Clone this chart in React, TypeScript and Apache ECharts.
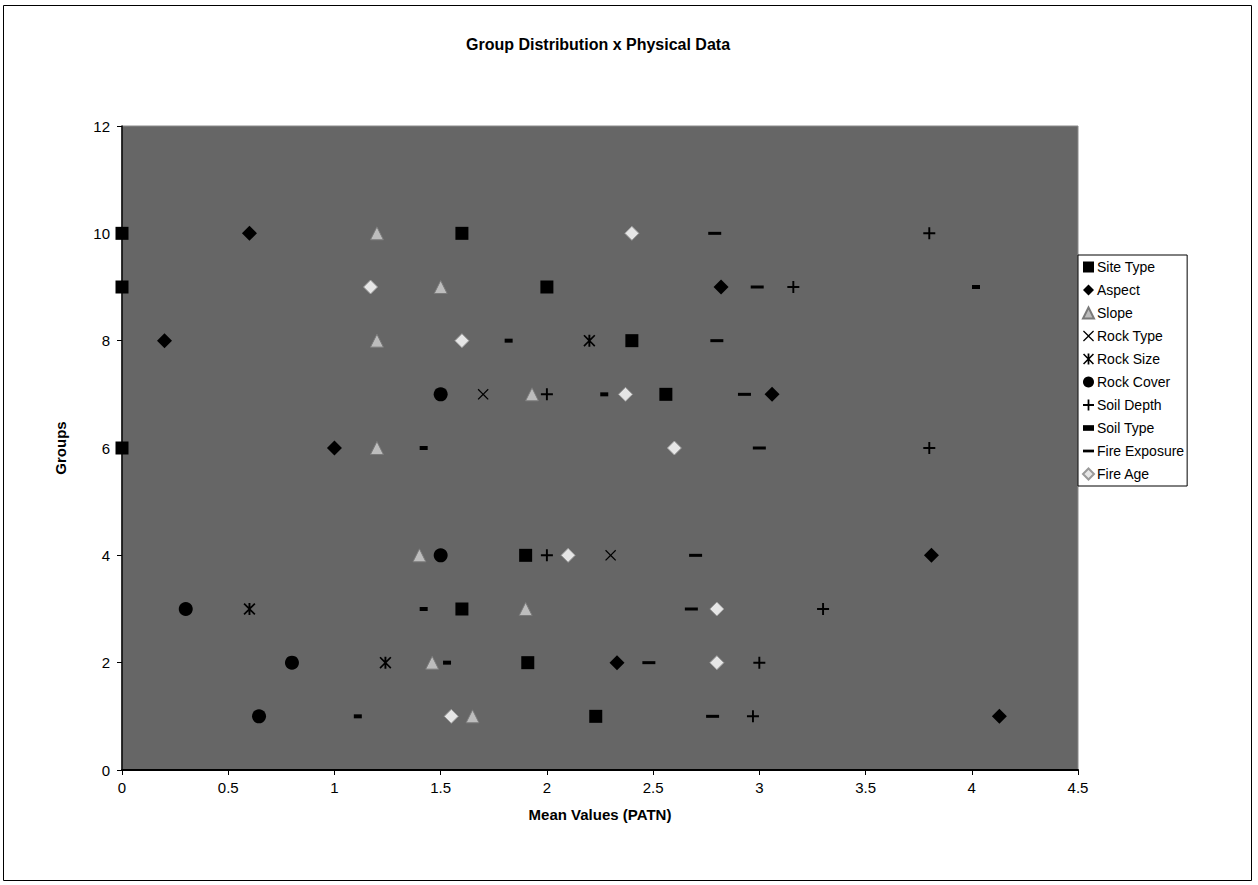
import React, { useEffect, useRef } from "react";
import * as echarts from "echarts";

// Groups (y values) and per-series mean values (x), aligned with groups; null = not shown
const groups = [10, 9, 8, 7, 6, 4, 3, 2, 1];
const siteType = [1.6, 2.0, 2.4, 2.56, 0, 1.9, 1.6, 1.91, 2.23];
const siteTypeZeroGroups = [10, 9];
const aspect = [0.6, 2.82, 0.2, 3.06, 1.0, 3.81, null, 2.33, 4.13];
const slope = [1.2, 1.5, 1.2, 1.93, 1.2, 1.4, 1.9, 1.46, 1.65];
const rockType = [null, null, null, 1.7, null, 2.3, null, null, null];
const rockSize = [null, null, 2.2, null, null, null, 0.6, 1.24, null];
const rockCover = [null, null, null, 1.5, null, 1.5, 0.3, 0.8, 0.645];
const soilDepth = [3.8, 3.16, null, 2.0, 3.8, 2.0, 3.3, 3.0, 2.97];
const soilType = [null, 4.02, 1.82, 2.27, 1.42, null, 1.42, 1.53, 1.11];
const fireExposure = [2.79, 2.99, 2.8, 2.93, 3.0, 2.7, 2.68, 2.48, 2.78];
const fireAge = [2.4, 1.17, 1.6, 2.37, 2.6, 2.1, 2.8, 2.8, 1.55];

const xTicks = { min: 0, max: 4.5, interval: 0.5 };
const yTicks = { min: 0, max: 12, interval: 2 };

const THIN_X = "path://M0.8,0L5,4.2L9.2,0L10,0.8L5.8,5L10,9.2L9.2,10L5,5.8L0.8,10L0,9.2L4.2,5L0,0.8Z";
const STAR = "path://M1,0L5,4L9,0L10,1L6,5L10,9L9,10L5,6L1,10L0,9L4,5L0,1ZM4.2,0H5.8V10H4.2Z";
const PLUS = "path://M4.2,0H5.8V4.2H10V5.8H5.8V10H4.2V5.8H0V4.2H4.2Z";
const DASH_LONG = "path://M0,0H12V3H0Z";
const DASH_SHORT = "path://M0,0H7V3.6H0Z";

function pairs(vals: (number | null)[]) {
  const out: number[][] = [];
  vals.forEach((v, i) => {
    if (v !== null && v !== undefined) out.push([v, groups[i]]);
  });
  return out;
}

export default function App() {
  const ref = useRef<HTMLDivElement>(null);
  useEffect(() => {
    document.body.style.margin = "0";
    if (!ref.current) return;
    const chart = echarts.init(ref.current, null, { renderer: "svg" });
    const font = "Arial, 'Liberation Sans', sans-serif";
    const mk = (name: string, data: number[][], symbol: string, size: any, color: string, border?: string, bw?: number) => ({
      name,
      type: "scatter",
      data,
      symbol,
      symbolSize: size,
      itemStyle: { color, borderColor: border || color, borderWidth: bw ?? 0, opacity: 1 },
      emphasis: { disabled: true },
    });
    const siteData = pairs(siteType).concat(siteTypeZeroGroups.map((g) => [0, g]));
    const option: any = {
      animation: false,
      backgroundColor: "#ffffff",
      textStyle: { fontFamily: font },
      graphic: [
        { type: "rect", shape: { x: 3.5, y: 5.5, width: 1248, height: 875 }, style: { fill: "none", stroke: "#000", lineWidth: 1 }, silent: true },
        { type: "text", x: 598, y: 44, style: { text: "Group Distribution x Physical Data", font: `bold 16px ${font}`, fill: "#000", textAlign: "center", textVerticalAlign: "middle" } },
      ],
      grid: { left: 122, right: 180, top: 126, bottom: 115, show: true, backgroundColor: "#666666", borderColor: "#8a8a8a", borderWidth: 1 },
      legend: {
        orient: "vertical",
        left: 1078,
        top: 255,
        itemWidth: 11,
        itemHeight: 11,
        itemGap: 9,
        padding: [5, 3, 5, 4],
        backgroundColor: "#ffffff",
        borderColor: "#000",
        borderWidth: 1,
        borderRadius: 0,
        symbolKeepAspect: true,
        textStyle: { fontFamily: font, fontSize: 14, color: "#000", padding: [0, 0, 0, -2] },
        selectedMode: false,
      },
      xAxis: {
        type: "value",
        ...xTicks,
        name: "Mean Values (PATN)",
        nameLocation: "middle",
        nameGap: 37,
        nameTextStyle: { fontFamily: font, fontSize: 15, fontWeight: "bold", color: "#000" },
        axisLine: { show: true, onZero: false, lineStyle: { color: "#000", width: 2 } },
        axisTick: { show: true, inside: false, length: 5, lineStyle: { color: "#000" } },
        axisLabel: { fontFamily: font, fontSize: 15, color: "#000", margin: 10 },
        splitLine: { show: false },
      },
      yAxis: {
        type: "value",
        ...yTicks,
        name: "Groups",
        nameLocation: "middle",
        nameGap: 54,
        nameTextStyle: { fontFamily: font, fontSize: 15, fontWeight: "bold", color: "#000" },
        axisLine: { show: true, onZero: false, lineStyle: { color: "#000", width: 1.5 } },
        axisTick: { show: true, inside: false, length: 5, lineStyle: { color: "#000" } },
        axisLabel: { fontFamily: font, fontSize: 15, color: "#000", margin: 12 },
        splitLine: { show: false },
      },
      series: [
        mk("Site Type", siteData, "rect", 13, "#000"),
        mk("Aspect", pairs(aspect), "diamond", 15, "#000"),
        mk("Slope", pairs(slope), "triangle", 13, "#bdbdbd", "#7a7a7a", 1),
        mk("Rock Type", pairs(rockType), THIN_X, 11, "#000"),
        mk("Rock Size", pairs(rockSize), STAR, 12, "#000"),
        mk("Rock Cover", pairs(rockCover), "circle", 14, "#000"),
        mk("Soil Depth", pairs(soilDepth), PLUS, 12, "#000"),
        mk("Soil Type", pairs(soilType), DASH_SHORT, [8, 4], "#000"),
        mk("Fire Exposure", pairs(fireExposure), DASH_LONG, [13, 3], "#000"),
        mk("Fire Age", pairs(fireAge), "diamond", 14, "#e6e6e6", "#9a9a9a", 1),
      ],
    };
    chart.setOption(option);
    return () => chart.dispose();
  }, []);
  return <div ref={ref} style={{ width: 1258, height: 885 }} />;
}
